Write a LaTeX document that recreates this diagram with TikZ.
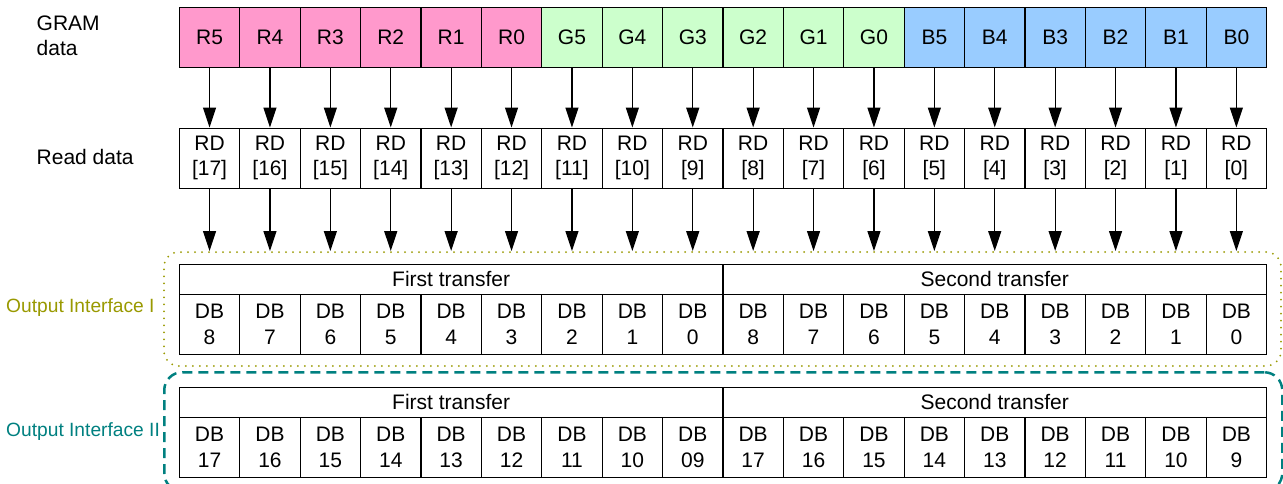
\documentclass[tikz,border=0pt]{standalone}
\usepackage{fontspec}
\setmainfont{Liberation Sans}
\usetikzlibrary{arrows.meta}
\definecolor{rpink}{RGB}{255,153,204}
\definecolor{ggreen}{RGB}{204,255,204}
\definecolor{bblue}{RGB}{153,204,255}
\definecolor{olivec}{RGB}{153,153,0}
\definecolor{tealc}{RGB}{0,128,128}
\tikzset{
  cell/.style={draw=black, line width=1.3pt, minimum width=60.4pt, minimum height=60pt,
    inner sep=0pt, anchor=north west, align=center,
    font=\fontsize{21}{25.5}\selectfont},
  hdr/.style={draw=black, line width=1.3pt, minimum width=543.6pt, minimum height=30pt,
    inner sep=0pt, anchor=north west, font=\fontsize{21}{25}\selectfont},
  conn/.style={line width=1.3pt, -{Triangle[length=20pt,width=13pt]}},
  lbl/.style={anchor=west, align=left, inner sep=0pt, font=\fontsize{21}{25}\selectfont},
  ilbl/.style={anchor=west, inner sep=0pt, font=\fontsize{19.2}{23}\selectfont},
  dotbox/.style={draw=olivec, line width=2pt, dash pattern=on 0pt off 7pt, line cap=round,
    rounded corners=15pt, anchor=north west, inner sep=0pt},
  dashbox/.style={draw=tealc, line width=2.5pt, dash pattern=on 10pt off 6pt,
    rounded corners=18pt, anchor=north west, inner sep=0pt}
}
\begin{document}
\begin{tikzpicture}[x=1pt,y=-1pt]
\useasboundingbox (0,0) rectangle (1283,483);
% interface boxes
\node[dotbox, minimum width=1117pt, minimum height=114pt] (box1) at (163,251) {};
\node[dashbox, minimum width=1118pt, minimum height=119pt] (box2) at (163,371) {};
% GRAM row
\foreach \lab/\col [count=\i from 0] in {R5/rpink,R4/rpink,R3/rpink,R2/rpink,R1/rpink,R0/rpink,
  G5/ggreen,G4/ggreen,G3/ggreen,G2/ggreen,G1/ggreen,G0/ggreen,
  B5/bblue,B4/bblue,B3/bblue,B2/bblue,B1/bblue,B0/bblue}
  \node[cell, fill=\col] (g\i) at ({178.7+60.4*\i},7) {\lab};
% Read data row
\foreach \lab [count=\i from 0] in {17,16,15,14,13,12,11,10,9,8,7,6,5,4,3,2,1,0}
  \node[cell] (r\i) at ({178.7+60.4*\i},127.5) {RD\\{[}\lab{]}};
% Interface I
\node[hdr] (h1a) at (178.7,263.5) {First transfer};
\node[hdr] (h1b) at (722.3,263.5) {Second transfer};
\foreach \lab [count=\i from 0] in {8,7,6,5,4,3,2,1,0,8,7,6,5,4,3,2,1,0}
  \node[cell] (o\i) at ({178.7+60.4*\i},293.5) {DB\\\lab};
% Interface II
\node[hdr] (h2a) at (178.7,386.8) {First transfer};
\node[hdr] (h2b) at (722.3,386.8) {Second transfer};
\foreach \lab [count=\i from 0] in {17,16,15,14,13,12,11,10,09,17,16,15,14,13,12,11,10,9}
  \node[cell] (t\i) at ({178.7+60.4*\i},416.8) {DB\\\lab};
% arrows
\foreach \i in {0,...,17}
  \draw[conn] (g\i.south) -- (r\i.north);
\foreach \i in {0,...,17}
  \draw[conn] (r\i.south) -- (r\i.south |- box1.north);
% labels
\node[lbl] (lg) at (36.5,36) {GRAM\\data};
\node[lbl] (lr) at (36.5,157) {Read data};
\node[ilbl, text=olivec] (li1) at (6,308) {Output Interface I};
\node[ilbl, text=tealc] (li2) at (6,432) {Output Interface II};
\end{tikzpicture}
\end{document}
